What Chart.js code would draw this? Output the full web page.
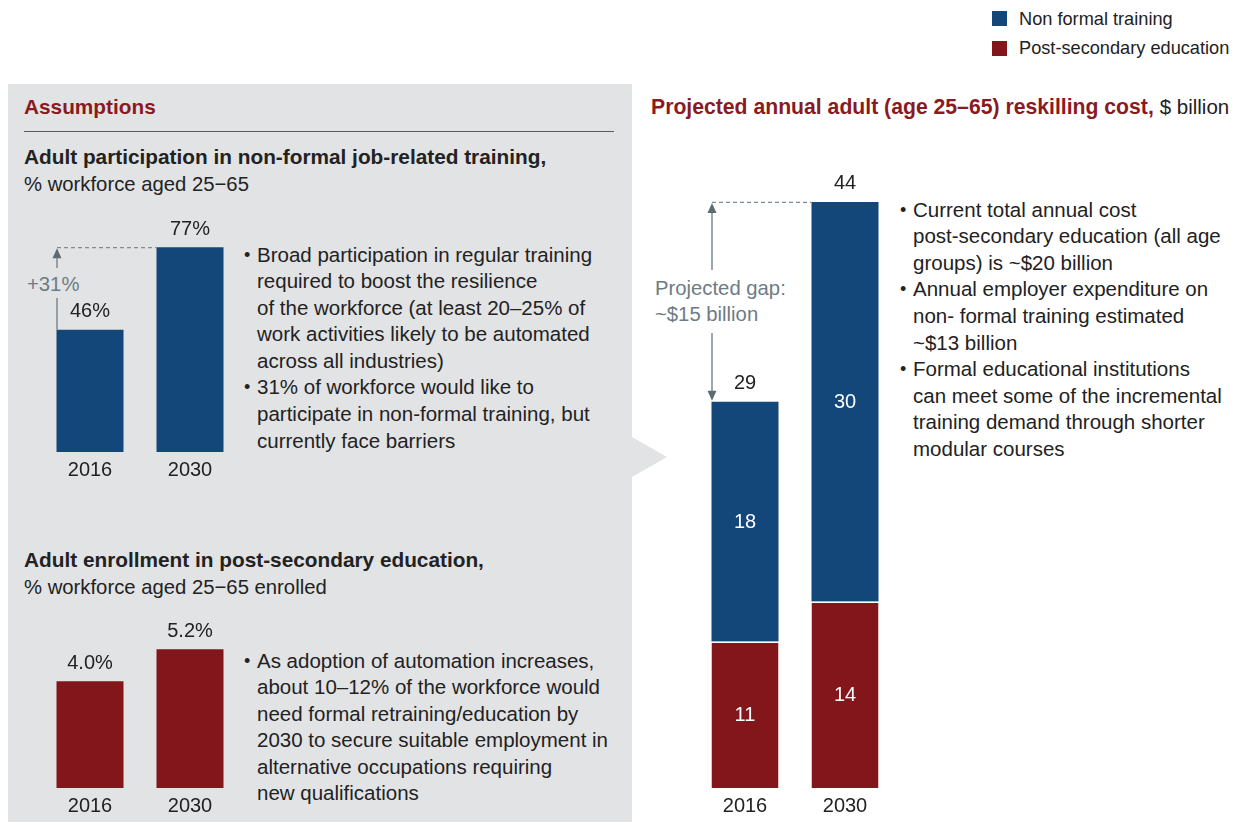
<!DOCTYPE html>
<html><head><meta charset="utf-8">
<script src="https://cdn.jsdelivr.net/npm/chart.js@4.4.1/dist/chart.umd.min.js"></script>
<style>
html,body{margin:0;padding:0}
body{width:1247px;height:825px;background:#fff;position:relative;overflow:hidden;font-family:"Liberation Sans",Arial,sans-serif;color:#222;}
.abs{position:absolute;white-space:nowrap}
#panel{position:absolute;left:8px;top:84px;width:624px;height:738px;background:#e2e3e5}
#tri{position:absolute;left:632px;top:437px;width:0;height:0;border-top:20px solid transparent;border-bottom:20px solid transparent;border-left:35px solid #e2e3e5}
.sq{position:absolute;width:15px;height:15px}
.leg{font-size:18.2px;line-height:20px}
.red{color:#8a1a1f}
.h{font-weight:bold;font-size:20.8px;line-height:26px}
.sub{font-size:20.3px;line-height:26px}
.bl{font-size:20.5px;line-height:26.6px}
.bl .b{position:relative;padding-left:13px}
.bl .b::before{content:"•";position:absolute;left:0;top:0;font-size:18px}
.gray{color:#6e7b84}
canvas{position:absolute}
</style>
</head><body>
<div id="panel"></div>
<div id="tri"></div>

<div class="sq" style="left:992px;top:11px;background:#13477a"></div>
<div class="abs leg" style="left:1019px;top:9px">Non formal training</div>
<div class="sq" style="left:992px;top:41px;background:#83161b"></div>
<div class="abs leg" style="left:1019px;top:38px">Post-secondary education</div>

<div class="abs h red" style="left:24px;top:94px">Assumptions</div>
<div class="abs" style="left:24px;top:131px;width:590px;height:1px;background:#5a5a5a"></div>
<div class="abs h" style="left:24px;top:144px">Adult participation in non-formal job-related training,</div>
<div class="abs sub" style="left:24px;top:171px">% workforce aged 25−65</div>

<div class="abs bl" style="left:244px;top:241.5px">
<div class="b">Broad participation in regular training<br>required to boost the resilience<br>of the workforce (at least 20–25% of<br>work activities likely to be automated<br>across all industries)</div>
<div class="b">31% of workforce would like to<br>participate in non-formal training, but<br>currently face barriers</div>
</div>
<div class="abs sub gray" style="left:27px;top:271px">+31%</div>

<div class="abs h" style="left:24px;top:547px">Adult enrollment in post-secondary education,</div>
<div class="abs sub" style="left:24px;top:574px">% workforce aged 25−65 enrolled</div>
<div class="abs bl" style="left:244px;top:647.5px">
<div class="b">As adoption of automation increases,<br>about 10–12% of the workforce would<br>need formal retraining/education by<br>2030 to secure suitable employment in<br>alternative occupations requiring<br>new qualifications</div>
</div>

<div class="abs h" style="left:651px;top:94px;font-size:21.2px"><span class="red">Projected annual adult (age 25–65) reskilling cost,</span> <span style="font-weight:normal;font-size:20.5px">$ billion</span></div>
<div class="abs sub gray" style="left:655px;top:275px;line-height:26px">Projected gap:<br>~$15 billion</div>

<div class="abs bl" style="left:900px;top:196.7px">
<div class="b">Current total annual cost<br>post-secondary education (all age<br>groups) is ~$20 billion</div>
<div class="b">Annual employer expenditure on<br>non- formal training estimated<br>~$13 billion</div>
<div class="b">Formal educational institutions<br>can meet some of the incremental<br>training demand through shorter<br>modular courses</div>
</div>

<canvas id="c1" width="200" height="300" style="left:40px;top:186px"></canvas>
<canvas id="c2" width="200" height="234" style="left:40px;top:588px"></canvas>
<canvas id="c3" width="200" height="700" style="left:695px;top:122px"></canvas>

<script>
// ---- data ----
const years = ['2016', '2030'];
const participation = [46, 77];          // % workforce in non-formal training
const enrollment = [4.0, 5.2];           // % workforce enrolled in post-secondary
const nonFormalCost = [18, 30];          // $ billion
const postSecondaryCost = [11, 14];      // $ billion
const seriesNames = ['Non formal training', 'Post-secondary education'];

const BLUE = '#13477a', RED = '#83161b', GRAY = '#7f8a92';
const FONT = '"Liberation Sans", Arial, sans-serif';
Chart.defaults.font.family = FONT;
Chart.defaults.color = '#222';

function baseOptions(max) {
  return {
    responsive: false, animation: false, devicePixelRatio: 1,
    layout: { padding: 0 },
    plugins: { legend: { display: false }, tooltip: { enabled: false } },
    scales: {
      x: { stacked: true, grid: { display: false, drawTicks: false }, border: { display: false },
           ticks: { padding: 6, font: { size: 20 }, color: '#222' },
           afterFit: (a) => { a.height = 34; } },
      y: { stacked: true, display: false, min: 0, max: max }
    }
  };
}

function arrowHead(ctx, x, y, dir) {
  ctx.beginPath();
  ctx.moveTo(x, y);
  ctx.lineTo(x - 4.5, y - dir * 10);
  ctx.lineTo(x + 4.5, y - dir * 10);
  ctx.closePath();
  ctx.fill();
}

function topLabels(fmt) {
  return {
    id: 'topLabels',
    afterDatasetsDraw(chart) {
      const ctx = chart.ctx; ctx.save();
      ctx.font = '20px ' + FONT; ctx.fillStyle = '#222';
      ctx.textAlign = 'center'; ctx.textBaseline = 'middle';
      const last = chart.getDatasetMeta(chart.data.datasets.length - 1);
      last.data.forEach((bar, j) => {
        let tot = 0;
        chart.data.datasets.forEach(ds => tot += ds.data[j]);
        ctx.fillText(fmt(tot), bar.x, bar.y - 18);
      });
      ctx.restore();
    }
  };
}

function gapArrow(gapTop, gapBot, bothHeads) {
  return {
    id: 'gapArrow',
    afterDatasetsDraw(chart) {
      const ctx = chart.ctx; ctx.save();
      const last = chart.getDatasetMeta(chart.data.datasets.length - 1);
      const b0 = last.data[0], b1 = last.data[1];
      const x0 = b0.x - b0.width / 2 + 0.5, x1 = b1.x - b1.width / 2;
      const yHi = b1.y, yLo = b0.y;
      ctx.strokeStyle = GRAY; ctx.fillStyle = '#5f6b73'; ctx.lineWidth = 1.2;
      ctx.setLineDash([4, 3]);
      ctx.beginPath(); ctx.moveTo(x0, yHi + 0.5); ctx.lineTo(x1, yHi + 0.5); ctx.stroke();
      ctx.setLineDash([]);
      ctx.lineWidth = 1.5;
      const top = yHi + 10;
      const bot = bothHeads ? yLo - 10 : yLo;
      ctx.beginPath();
      ctx.moveTo(x0, top); ctx.lineTo(x0, gapTop);
      ctx.moveTo(x0, gapBot); ctx.lineTo(x0, bot);
      ctx.stroke();
      arrowHead(ctx, x0, yHi + 1, -1);
      if (bothHeads) arrowHead(ctx, x0, yLo - 1, 1);
      ctx.restore();
    }
  };
}

// ---- chart 1: participation ----
new Chart(document.getElementById('c1'), {
  type: 'bar',
  data: { labels: years, datasets: [{ label: seriesNames[0], data: participation, backgroundColor: BLUE,
          barPercentage: 0.67, categoryPercentage: 1 }] },
  options: baseOptions(100),
  plugins: [topLabels(v => v + '%'), gapArrow(268 - 186, 298 - 186, false)]
});

// ---- chart 2: enrollment ----
new Chart(document.getElementById('c2'), {
  type: 'bar',
  data: { labels: years, datasets: [{ label: seriesNames[1], data: enrollment, backgroundColor: RED,
          barPercentage: 0.67, categoryPercentage: 1 }] },
  options: baseOptions(7.5),
  plugins: [topLabels(v => v.toFixed(1) + '%')]
});

// ---- chart 3: stacked cost ----
new Chart(document.getElementById('c3'), {
  type: 'bar',
  data: { labels: years, datasets: [
    { label: seriesNames[1], data: postSecondaryCost, backgroundColor: RED,
      borderColor: '#ffffff', borderWidth: { top: 1.5, left: 0, right: 0, bottom: 0 }, borderSkipped: false,
      barPercentage: 0.67, categoryPercentage: 1 },
    { label: seriesNames[0], data: nonFormalCost, backgroundColor: BLUE,
      barPercentage: 0.67, categoryPercentage: 1 }
  ] },
  options: baseOptions(50),
  plugins: [
    topLabels(v => String(v)),
    {
      id: 'inner',
      afterDatasetsDraw(chart) {
        const ctx = chart.ctx; ctx.save();
        ctx.font = '20px ' + FONT; ctx.fillStyle = '#fff';
        ctx.textAlign = 'center'; ctx.textBaseline = 'middle';
        chart.data.datasets.forEach((ds, i) => {
          chart.getDatasetMeta(i).data.forEach((bar, j) => {
            ctx.fillText(String(ds.data[j]), bar.x, (bar.y + bar.base) / 2 + 1);
          });
        });
        ctx.restore();
      }
    },
    gapArrow(270 - 122, 333 - 122, true)
  ]
});
</script>
</body></html>
